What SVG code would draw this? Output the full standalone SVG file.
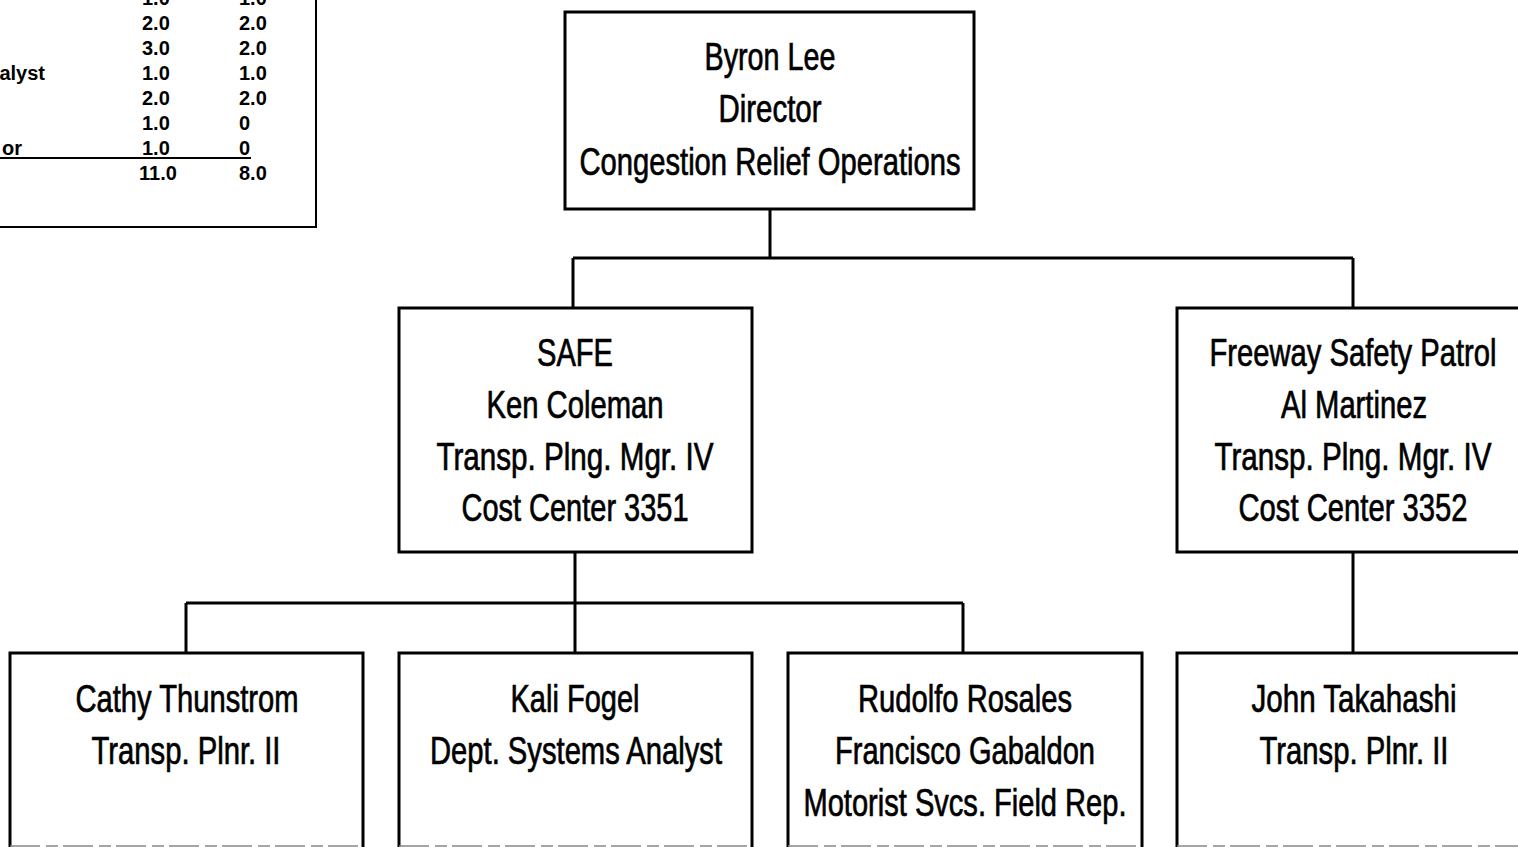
<svg xmlns="http://www.w3.org/2000/svg" width="1518" height="847" viewBox="0 0 1518 847">
<style>
.box{fill:#fff;stroke:#000;stroke-width:3}
.conn{fill:none;stroke:#000;stroke-width:3}
.t{font-family:"Liberation Sans",Arial,sans-serif;font-size:38px;fill:#000;stroke:#000;stroke-width:0.7;text-anchor:middle}
.tb{font-family:"Liberation Sans",Arial,sans-serif;font-size:20px;font-weight:bold;fill:#000}
.edge{stroke:#888;stroke-width:1.5;stroke-dasharray:30 6 12 5}
</style>
<rect width="1518" height="847" fill="#fff"/>
<g id="table">
<rect x="-10" y="-10" width="326" height="237" fill="none" stroke="#000" stroke-width="2"/>
<text class="tb" x="142" y="5">1.0</text><text class="tb" x="239" y="5">1.0</text>
<text class="tb" x="142" y="30">2.0</text><text class="tb" x="239" y="30">2.0</text>
<text class="tb" x="142" y="55">3.0</text><text class="tb" x="239" y="55">2.0</text>
<text class="tb" x="45" y="80" text-anchor="end">alyst</text><text class="tb" x="142" y="80">1.0</text><text class="tb" x="239" y="80">1.0</text>
<text class="tb" x="142" y="105">2.0</text><text class="tb" x="239" y="105">2.0</text>
<text class="tb" x="142" y="130">1.0</text><text class="tb" x="239" y="130">0</text>
<text class="tb" x="22" y="155" text-anchor="end">or</text><text class="tb" x="142" y="155">1.0</text><text class="tb" x="239" y="155">0</text>
<line x1="0" y1="158" x2="251" y2="158" stroke="#000" stroke-width="2"/>
<text class="tb" x="139" y="180">11.0</text><text class="tb" x="239" y="180">8.0</text>
</g>
<g id="connectors">
<path class="conn" d="M770 209 V258 M573 258 H1353 M573 258 V308 M1353 258 V308"/>
<path class="conn" d="M575 552 V653 M186 603 H963 M186 603 V653 M963 603 V653"/>
<path class="conn" d="M1353 552 V653"/>
</g>
<g id="director">
<rect class="box" x="565" y="12" width="409" height="197"/>
<text class="t" x="770" y="70" textLength="131" lengthAdjust="spacingAndGlyphs">Byron Lee</text>
<text class="t" x="770" y="122" textLength="103" lengthAdjust="spacingAndGlyphs">Director</text>
<text class="t" x="770" y="175" textLength="381" lengthAdjust="spacingAndGlyphs">Congestion Relief Operations</text>
</g>
<g id="safe">
<rect class="box" x="399" y="308" width="353" height="244"/>
<text class="t" x="575" y="366" textLength="76" lengthAdjust="spacingAndGlyphs">SAFE</text>
<text class="t" x="575" y="418" textLength="177" lengthAdjust="spacingAndGlyphs">Ken Coleman</text>
<text class="t" x="575" y="470" textLength="277" lengthAdjust="spacingAndGlyphs">Transp. Plng. Mgr. IV</text>
<text class="t" x="575" y="521" textLength="227" lengthAdjust="spacingAndGlyphs">Cost Center 3351</text>
</g>
<g id="fsp">
<rect class="box" x="1177" y="308" width="360" height="244"/>
<text class="t" x="1353" y="366" textLength="287" lengthAdjust="spacingAndGlyphs">Freeway Safety Patrol</text>
<text class="t" x="1354" y="418" textLength="146" lengthAdjust="spacingAndGlyphs">Al Martinez</text>
<text class="t" x="1353" y="470" textLength="277" lengthAdjust="spacingAndGlyphs">Transp. Plng. Mgr. IV</text>
<text class="t" x="1353" y="521" textLength="229" lengthAdjust="spacingAndGlyphs">Cost Center 3352</text>
</g>
<g id="cathy">
<rect class="box" x="10" y="653" width="353" height="200"/>
<text class="t" x="187" y="712" textLength="223" lengthAdjust="spacingAndGlyphs">Cathy Thunstrom</text>
<text class="t" x="186" y="764" textLength="189" lengthAdjust="spacingAndGlyphs">Transp. Plnr. II</text>
<line class="edge" x1="10" y1="846" x2="363" y2="846"/>
</g>
<g id="kali">
<rect class="box" x="399" y="653" width="353" height="200"/>
<text class="t" x="575" y="712" textLength="129" lengthAdjust="spacingAndGlyphs">Kali Fogel</text>
<text class="t" x="576" y="764" textLength="292" lengthAdjust="spacingAndGlyphs">Dept. Systems Analyst</text>
<line class="edge" x1="399" y1="846" x2="752" y2="846"/>
</g>
<g id="rudolfo">
<rect class="box" x="788" y="653" width="354" height="200"/>
<text class="t" x="965" y="712" textLength="214" lengthAdjust="spacingAndGlyphs">Rudolfo Rosales</text>
<text class="t" x="965" y="764" textLength="260" lengthAdjust="spacingAndGlyphs">Francisco Gabaldon</text>
<text class="t" x="965" y="816" textLength="323" lengthAdjust="spacingAndGlyphs">Motorist Svcs. Field Rep.</text>
<line class="edge" x1="788" y1="846" x2="1142" y2="846"/>
</g>
<g id="john">
<rect class="box" x="1177" y="653" width="360" height="200"/>
<text class="t" x="1354" y="712" textLength="205" lengthAdjust="spacingAndGlyphs">John Takahashi</text>
<text class="t" x="1354" y="764" textLength="189" lengthAdjust="spacingAndGlyphs">Transp. Plnr. II</text>
<line class="edge" x1="1177" y1="846" x2="1518" y2="846"/>
</g>
</svg>
